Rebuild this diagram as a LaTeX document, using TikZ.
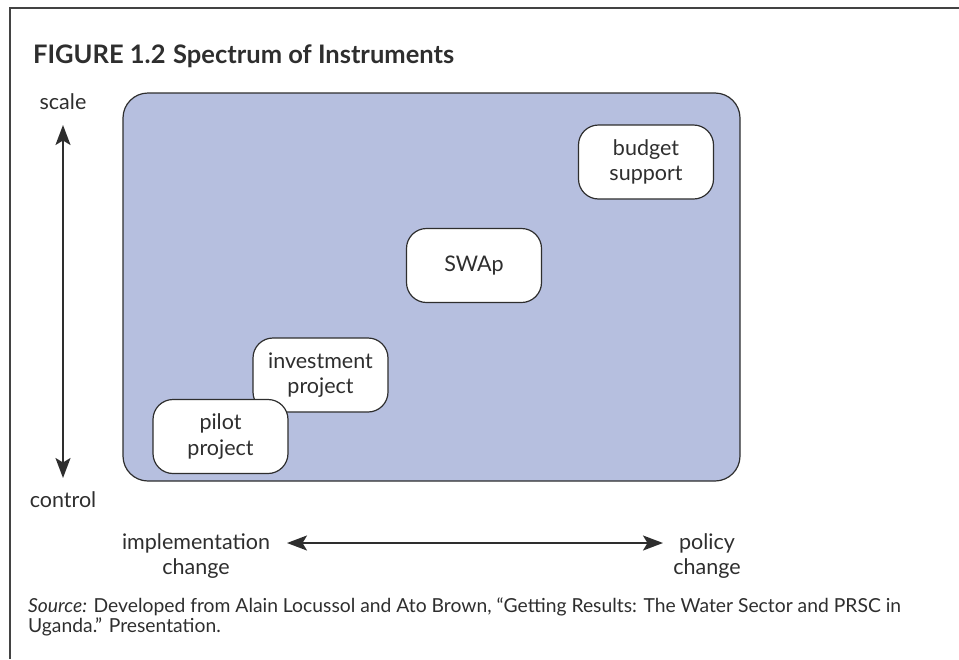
\documentclass[tikz,border=0pt]{standalone}
\usepackage{fontspec}
\setmainfont{Lato}
\usetikzlibrary{arrows.meta}
\usetikzlibrary{positioning}
\definecolor{panelblue}{HTML}{B6BFDF}
\definecolor{inkgray}{HTML}{2E2E2E}

\begin{document}
\begin{tikzpicture}[x=1pt,y=-1pt,>={Stealth[length=20pt,width=15pt,inset=4.5pt]},
    text=inkgray,
    frame line/.style={draw=inkgray!90,line width=2.5pt},
    axis line/.style={draw=inkgray,line width=2pt},
    panel node/.style={draw=inkgray,fill=panelblue,rounded corners=25pt,line width=1.2pt,minimum width=617pt,minimum height=388pt},
    item node/.style={draw=inkgray,fill=white,rounded corners=20pt,line width=1.2pt,minimum width=135pt,minimum height=74pt,align=center,inner sep=0pt,font=\fontsize{21.5}{25.5}\selectfont},
    label node/.style={align=center,inner sep=0pt,font=\fontsize{21.5}{25}\selectfont}]
  \useasboundingbox (0,0) rectangle (959,659);
  \draw[frame line] (959,8) -- (10,8) -- (10,659);
  \node[anchor=base west,inner sep=0pt,font=\fontsize{25.5}{30}\selectfont\bfseries] (title) at (33,63) {FIGURE 1.2\hspace{0.3em}Spectrum of Instruments};
   \begin{scope}
      \node[panel node] (panel) at (431.5,287) {};
      \node[item node] (budget) at (646,162) {budget\\support};
      \node[item node] (swap) at (474,265.5) {SWAp};
      \node[item node] (invest) at (320.5,375) {investment\\project};
      \node[item node] (pilot) at (220.5,436.5) {pilot\\project};
   \end{scope}
  % axes
  \node[label node] (scale) at (63,102) {scale};
  \node[label node] (control) at (63,500) {control};
  \node[label node] (impl) at (196,556) {implementation\\change};
  \node[label node] (policy) at (707,556) {policy\\change};
  \coordinate (scale tip) at (63,125);
  \coordinate (control tip) at (63,478);
  \coordinate (impl tip) at (287,543);
  \coordinate (policy tip) at (663,543);
  \draw[<->,axis line] (scale tip) -- (control tip);
  \draw[<->,axis line] (impl tip) -- (policy tip);
  \node[anchor=base west,align=left,inner sep=0pt,font=\fontsize{19.3}{17.5}\selectfont] (source) at (28,632) {\textit{Source:} Developed from Alain Locussol and Ato Brown, “Getting Results: The Water Sector and PRSC in\\Uganda.” Presentation.};
\end{tikzpicture}
\end{document}
